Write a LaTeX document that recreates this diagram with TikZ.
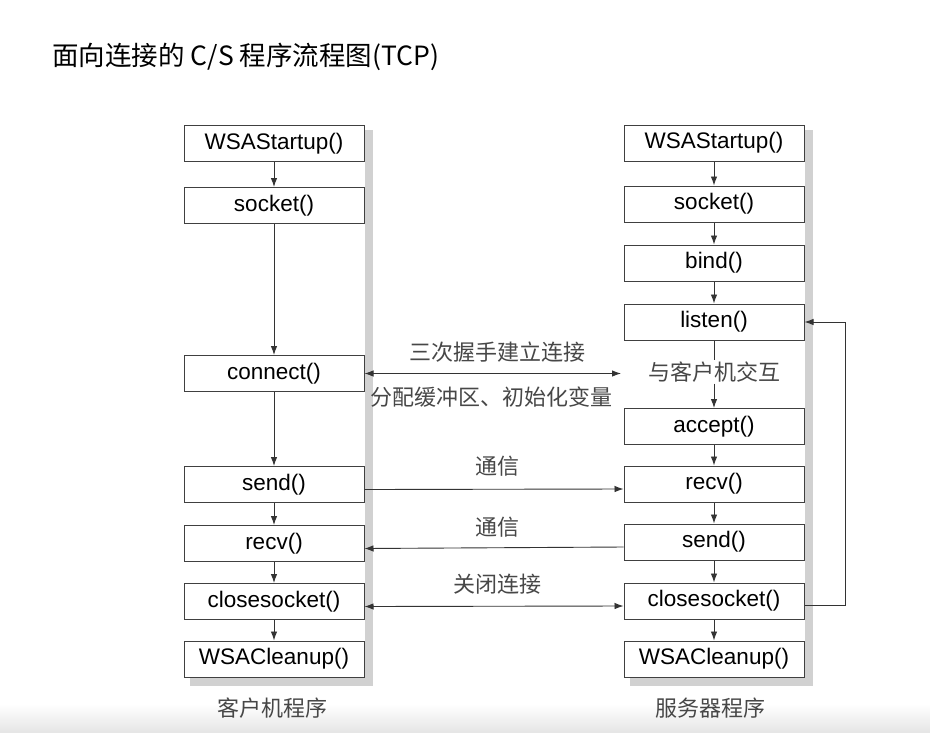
\documentclass[tikz,border=0pt]{standalone}
\usepackage{fontspec}
\setmainfont{Liberation Sans}
\newfontfamily\cjk{Noto Sans CJK SC}
\usetikzlibrary{arrows.meta}

\newcommand{\bfsz}{\fontsize{22.5}{26}\selectfont}
\newcommand{\cfsz}{\cjk\fontsize{22}{26}\selectfont}
\newcommand{\cn}{\node[draw=black!75, line width=1pt, fill=white, minimum width=180pt, minimum height=36pt, inner sep=0pt, font=\bfsz]}
\newcommand{\tn}{\node[text=black!72, inner sep=1pt, font=\cfsz]}
\newcommand{\shift}{-5pt}

\begin{document}
\begin{tikzpicture}[x=1pt, y=-1pt, line width=0.9pt, draw=black!80,
    >={Latex[length=9pt,width=6.5pt]}]
            \fill[white] (0,0) rectangle (930,732);
            \useasboundingbox (0,0) rectangle (930,732);
            \shade[top color=white, bottom color=black!10] (0,704) rectangle (930,732);

            % title
            \node[anchor=west, inner sep=0pt, font=\cjk\fontsize{26.5}{30}\selectfont] (title) at (52,57) {面向连接的 C/S 程序流程图(TCP)};

            % panels with shadow
            \fill[black!18] (190,130) rectangle (373,686);
            \fill[white] (184,120) rectangle (364.5,678);
            \fill[black!18] (630,130) rectangle (813,686);
            \fill[white] (624,120) rectangle (804.5,678);

            % client
            \cn (cstart) at (274,143.5) {WSAStartup()};
            \cn (csock) at (274,205.5) {socket()};
            \cn (cconn) at (274,373.5) {connect()};
            \cn (csend) at (274,484.5) {send()};
            \cn (crecv) at (274,543.5) {recv()};
            \cn (cclose) at (274,601.5) {closesocket()};
            \cn (cclean) at (274,659) {WSACleanup()};

            % server
            \cn (sstart) at (714,143) {WSAStartup()};
            \cn (ssock) at (714,204) {socket()};
            \cn (sbind) at (714,263) {bind()};
            \cn (slist) at (714,322) {listen()};
            \tn (sint) at (714,372) {与客户机交互};
            \cn (sacc) at (714,426.5) {accept()};
            \cn (srecv) at (714,484) {recv()};
            \cn (ssend) at (714,542) {send()};
            \cn (sclose) at (714,601) {closesocket()};
            \cn (sclean) at (714,659) {WSACleanup()};

            \draw[->] (cstart) -- (csock);
            \draw[->] (csock) -- (cconn);
            \draw[->] (cconn) -- (csend);
            \draw[->] (csend) -- (crecv);
            \draw[->] (crecv) -- (cclose);
            \draw[->] (cclose) -- (cclean);

            \draw[->] (sstart) -- (ssock);
            \draw[->] (ssock) -- (sbind);
            \draw[->] (sbind) -- (slist);
            \draw (slist) -- (sint);
            \draw[->] (sint) -- (sacc);
            \draw[->] (sacc) -- (srecv);
            \draw[->] (srecv) -- (ssend);
            \draw[->] (ssend) -- (sclose);
            \draw[->] (sclose) -- (sclean);

            % between client and server
            \coordinate (hsend) at (621,373.5);
            \draw[<->] (cconn.east) -- (hsend);
            \tn (hs1) at (497,352) {三次握手建立连接};
            \tn (hs2) at (491,397) {分配缓冲区、初始化变量};

            \draw[->] ([yshift=\shift]csend.east) -- ([yshift=\shift]srecv.west);
            \tn (com1) at (497,466) {通信};
            \draw[<-] ([yshift=\shift]crecv.east) -- ([yshift=\shift]ssend.west);
            \tn (com2) at (497,527) {通信};
            \draw[<->] ([yshift=\shift]cclose.east) -- ([yshift=\shift]sclose.west);
            \tn (cls) at (497,584) {关闭连接};

            \draw[->] ([yshift=-4pt]sclose.east) -- ++(41,0) |- (slist.east);

            \tn (clab) at (272,708) {客户机程序};
            \tn (slab) at (710,708) {服务器程序};
\end{tikzpicture}
\end{document}
